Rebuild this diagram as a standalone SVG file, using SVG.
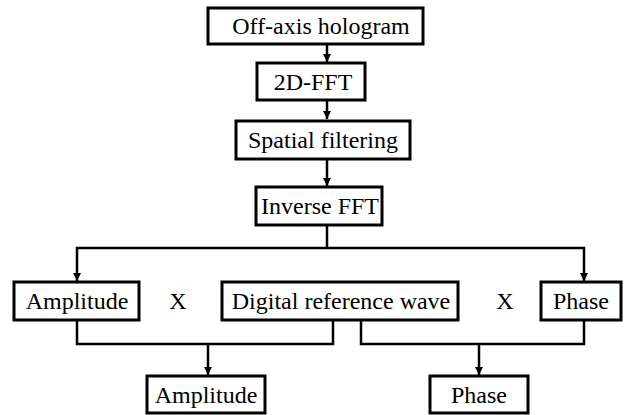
<svg xmlns="http://www.w3.org/2000/svg" width="627" height="415" viewBox="0 0 627 415">
  <style>
    .box rect { fill: #fff; stroke: #000; stroke-width: 3; }
    .wire { fill: none; stroke: #000; stroke-width: 2.5; }
    text { font-family: "Liberation Serif", Tinos, Times, "Times New Roman", "Noto Serif", "DejaVu Serif", serif; font-size: 24px; text-anchor: middle; fill: #000; }
  </style>
  <defs>
    <marker id="arrow" viewBox="0 0 10 10" refX="10" refY="5" markerWidth="8" markerHeight="8" markerUnits="userSpaceOnUse" orient="auto">
      <path d="M0,0 L10,5 L0,10 Z" fill="#000"/>
    </marker>
  </defs>

  <!-- connectors -->
  <g id="connectors">
    <line class="wire" x1="327" y1="44" x2="327" y2="62" marker-end="url(#arrow)"/>
    <line class="wire" x1="327" y1="100" x2="327" y2="119" marker-end="url(#arrow)"/>
    <line class="wire" x1="327" y1="159" x2="327" y2="186" marker-end="url(#arrow)"/>
    <line class="wire" x1="327" y1="225" x2="327" y2="248"/>
    <path class="wire" d="M327,248 H584 V281" marker-end="url(#arrow)"/>
    <path class="wire" d="M327,248 H77 V281" marker-end="url(#arrow)"/>
    <path class="wire" d="M77,320 V344 H333 V320"/>
    <path class="wire" d="M361,320 V344 H584 V320"/>
    <line class="wire" x1="208" y1="344" x2="208" y2="375" marker-end="url(#arrow)"/>
    <line class="wire" x1="479" y1="344" x2="479" y2="375" marker-end="url(#arrow)"/>
  </g>

  <!-- processing chain -->
  <g id="hologram" class="box">
    <rect x="208" y="8" width="215" height="36"/>
    <text x="321" y="34">Off-axis hologram</text>
  </g>
  <g id="fft" class="box">
    <rect x="257" y="63" width="108" height="37"/>
    <text x="313" y="90">2D-FFT</text>
  </g>
  <g id="filtering" class="box">
    <rect x="236" y="121" width="174" height="38"/>
    <text x="323" y="148">Spatial filtering</text>
  </g>
  <g id="ifft" class="box">
    <rect x="256" y="187" width="126" height="38"/>
    <text x="320" y="214">Inverse FFT</text>
  </g>

  <!-- multiplication row -->
  <g id="amplitude-in" class="box">
    <rect x="14" y="282" width="125" height="38"/>
    <text x="77" y="309">Amplitude</text>
  </g>
  <text x="178" y="309">X</text>
  <g id="reference-wave" class="box">
    <rect x="222" y="282" width="236" height="38"/>
    <text x="341" y="309">Digital reference wave</text>
  </g>
  <text x="505" y="309">X</text>
  <g id="phase-in" class="box">
    <rect x="541" y="282" width="80" height="38"/>
    <text x="581" y="309">Phase</text>
  </g>

  <!-- results -->
  <g id="amplitude-out" class="box">
    <rect x="147" y="376" width="118" height="37"/>
    <text x="206" y="403">Amplitude</text>
  </g>
  <g id="phase-out" class="box">
    <rect x="430" y="376" width="98" height="37"/>
    <text x="479" y="403">Phase</text>
  </g>
</svg>
